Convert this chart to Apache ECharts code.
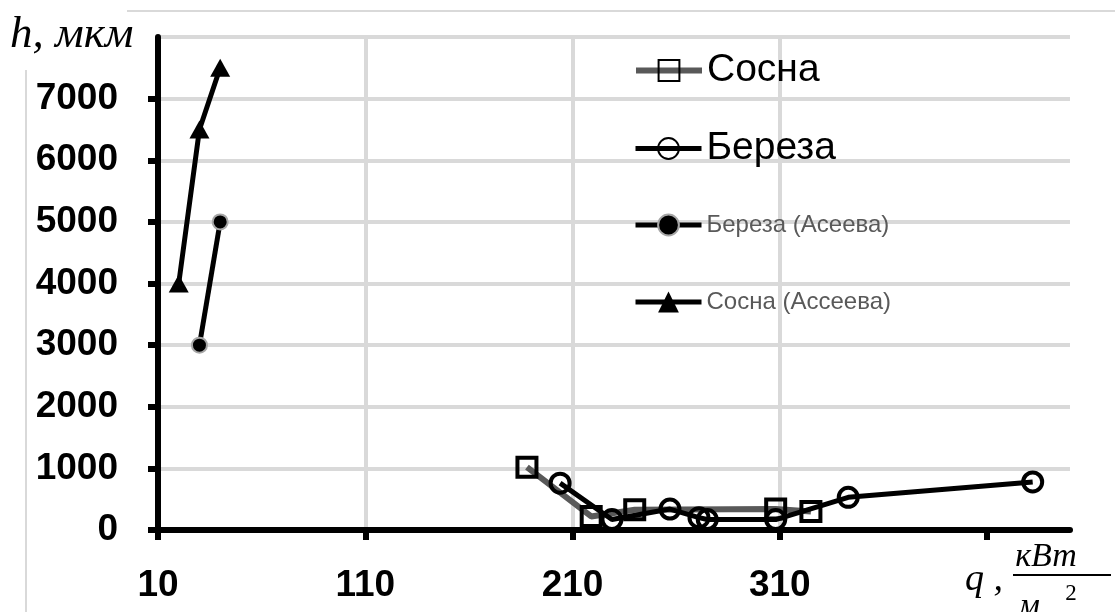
<!DOCTYPE html>
<html>
<head>
<meta charset="utf-8">
<script src="https://cdn.jsdelivr.net/npm/echarts@6/dist/echarts.min.js"></script>
<style>
html,body{margin:0;padding:0;background:#fff;}
#c{width:1115px;height:612px;}
</style>
</head>
<body>
<div id="c"></div>
<script>
// ---- data ----
const sosnaX = [188, 219, 240, 308, 325];
const sosnaY = [1020, 220, 330, 340, 300];
const berezaX = [204, 229, 257, 271, 275, 308, 343, 432];
const berezaY = [760, 170, 340, 200, 170, 170, 530, 780];
const berezaAseevaX = [30, 40];
const berezaAseevaY = [3000, 5000];
const sosnaAseevaX = [20, 30, 40];
const sosnaAseevaY = [4000, 6500, 7500];
const xTicks = [10, 110, 210, 310, 410];
const xLabels = [10, 110, 210, 310];
const seriesNames = ['Сосна', 'Береза', 'Береза (Асеева)', 'Сосна (Ассеева)'];

const zip = (xs, ys) => xs.map((x, i) => [x, ys[i]]);

const chart = echarts.init(document.getElementById('c'), null, {renderer: 'canvas'});
const labelFont = {fontFamily: '"Liberation Sans", Arial, sans-serif', fontWeight: 'bold', fontSize: 37, color: '#000'};

const legendBase = (name, top, fontSize, color, lineColor, lineWidth) => ({
  data: [name], left: 633, top: top, orient: 'vertical', padding: 0,
  itemWidth: 66, itemHeight: 26, selectedMode: false,
  lineStyle: {width: lineWidth, color: lineColor},
  textStyle: {fontFamily: '"Liberation Sans", Arial, sans-serif', fontSize: fontSize, color: color}
});

chart.setOption({
  animation: false,
  backgroundColor: '#fff',
  grid: {left: 158, right: 45, top: 37, bottom: 82, containLabel: false},
  legend: [
    legendBase(seriesNames[0], 51, 39, '#000', '#595959', 6),
    legendBase(seriesNames[1], 129, 39, '#000', '#000', 5),
    legendBase(seriesNames[2], 213, 24, '#595959', '#000', 5),
    legendBase(seriesNames[3], 290, 24, '#595959', '#000', 5)
  ],
  xAxis: {
    type: 'value', min: 10, max: 450, interval: 100,
    axisLine: {show: true, lineStyle: {color: '#000', width: 6}},
    axisTick: {show: true, length: 10, lineStyle: {color: '#000', width: 6}, customValues: xTicks},
    axisLabel: Object.assign({margin: 37, customValues: xLabels, formatter: v => String(v)}, labelFont),
    splitLine: {show: true, showMaxLine: false, lineStyle: {color: '#d9d9d9', width: 4}}
  },
  yAxis: {
    type: 'value', min: 0, max: 8000, interval: 1000,
    axisLine: {show: true, lineStyle: {color: '#000', width: 6}},
    axisTick: {show: true, length: 10, lineStyle: {color: '#000', width: 6}},
    axisLabel: Object.assign({margin: 40, showMaxLabel: false, formatter: v => String(v)}, labelFont),
    splitLine: {show: true, lineStyle: {color: '#d9d9d9', width: 4}}
  },
  series: [
    {
      name: seriesNames[0], type: 'line', data: zip(sosnaX, sosnaY),
      symbol: 'rect', symbolSize: 19,
      lineStyle: {color: '#595959', width: 6},
      itemStyle: {color: 'transparent', borderColor: '#000', borderWidth: 4},
      z: 2
    },
    {
      name: seriesNames[1], type: 'line', data: zip(berezaX, berezaY),
      symbol: 'circle', symbolSize: 19,
      lineStyle: {color: '#000', width: 5},
      itemStyle: {color: 'transparent', borderColor: '#000', borderWidth: 4},
      z: 3
    },
    {
      name: seriesNames[2], type: 'line', data: zip(berezaAseevaX, berezaAseevaY),
      symbol: 'circle', symbolSize: 15,
      lineStyle: {color: '#000', width: 5},
      itemStyle: {color: '#000', borderColor: '#a6a6a6', borderWidth: 2},
      z: 3
    },
    {
      name: seriesNames[3], type: 'line', data: zip(sosnaAseevaX, sosnaAseevaY),
      symbol: 'triangle', symbolSize: [20, 18],
      lineStyle: {color: '#000', width: 5},
      itemStyle: {color: '#000'},
      z: 3
    }
  ],
  graphic: [
    {type: 'line', shape: {x1: 127, y1: 11, x2: 1115, y2: 11}, style: {stroke: '#d9d9d9', lineWidth: 2}, silent: true},
    {type: 'line', shape: {x1: 26, y1: 70, x2: 26, y2: 612}, style: {stroke: '#d9d9d9', lineWidth: 2}, silent: true},
    {type: 'text', x: 10, y: 35, style: {text: 'h, мкм', font: 'italic 45px "Liberation Serif", "Times New Roman", serif', fill: '#000', verticalAlign: 'middle', textAlign: 'left'}},
    {type: 'text', x: 965, y: 580, style: {text: 'q ,', font: 'italic 38px "Liberation Serif", "Times New Roman", serif', fill: '#000', verticalAlign: 'middle', textAlign: 'left'}},
    {type: 'text', x: 1046, y: 557, style: {text: 'кВт', font: 'italic 34px "Liberation Serif", "Times New Roman", serif', fill: '#000', verticalAlign: 'middle', textAlign: 'center'}},
    {type: 'line', shape: {x1: 1013, y1: 575, x2: 1111, y2: 575}, style: {stroke: '#000', lineWidth: 2}, silent: true},
    {type: 'text', x: 1029, y: 607, style: {text: 'м', font: 'italic 34px "Liberation Serif", "Times New Roman", serif', fill: '#000', verticalAlign: 'middle', textAlign: 'center'}},
    {type: 'text', x: 1071, y: 594, style: {text: '2', font: '23px "Liberation Serif", "Times New Roman", serif', fill: '#000', verticalAlign: 'middle', textAlign: 'center'}}
  ]
});
</script>
</body>
</html>
